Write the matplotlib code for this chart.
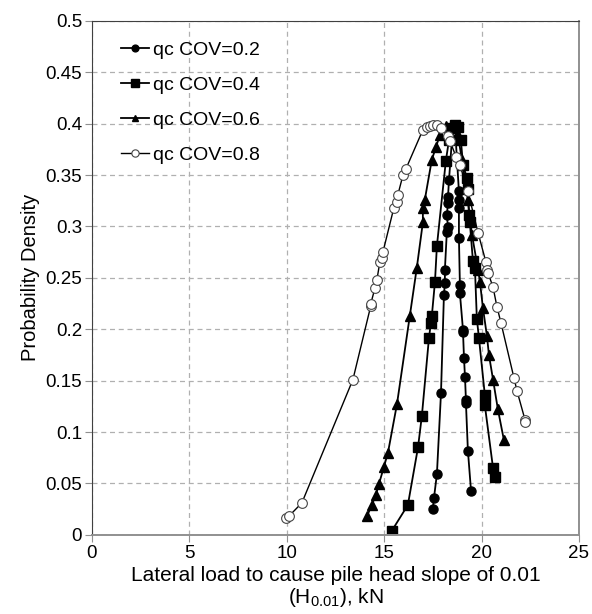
import numpy as np
import matplotlib.pyplot as plt

plt.rcParams['font.family'] = ['Liberation Sans', 'DejaVu Sans']
plt.rcParams['mathtext.default'] = 'regular'

# qc COV = 0.2
x02 = [17.50, 17.56, 17.71, 17.92, 18.07, 18.12, 18.12, 18.22, 18.28, 18.22, 18.28, 18.28, 18.33,
       18.48, 18.63, 18.84, 18.84, 18.84, 18.84, 18.89, 18.89, 19.05, 19.05, 19.10, 19.15, 19.20,
       19.20, 19.30, 19.46]
y02 = [0.025, 0.036, 0.059, 0.138, 0.233, 0.245, 0.258, 0.295, 0.299, 0.311, 0.323, 0.329, 0.345,
       0.384, 0.399, 0.334, 0.326, 0.318, 0.289, 0.243, 0.235, 0.199, 0.197, 0.172, 0.154, 0.131,
       0.128, 0.082, 0.043]

# qc COV = 0.4
x04 = [15.40, 16.22, 16.74, 16.94, 17.30, 17.40, 17.45, 17.61, 17.71, 18.17, 18.33, 18.48, 18.63,
       18.79, 18.94, 19.05, 19.25, 19.30, 19.35, 19.40, 19.56, 19.66, 19.76, 19.87, 20.17, 20.17,
       20.59, 20.69]
y04 = [0.004, 0.029, 0.085, 0.116, 0.191, 0.206, 0.213, 0.246, 0.281, 0.364, 0.384, 0.396, 0.399,
       0.397, 0.384, 0.360, 0.347, 0.336, 0.311, 0.304, 0.266, 0.260, 0.210, 0.191, 0.136, 0.126,
       0.065, 0.056]

# qc COV = 0.6
x06 = [14.12, 14.37, 14.58, 14.73, 14.99, 15.20, 15.66, 16.32, 16.68, 16.99, 16.99, 17.09, 17.45,
       17.66, 17.86, 18.17, 18.48, 18.79, 18.99, 19.30, 19.51, 19.82, 19.92, 20.07, 20.28, 20.38,
       20.59, 20.84, 21.15]
y06 = [0.018, 0.029, 0.039, 0.049, 0.066, 0.080, 0.127, 0.213, 0.260, 0.304, 0.318, 0.326, 0.365,
       0.377, 0.389, 0.398, 0.398, 0.389, 0.365, 0.326, 0.292, 0.258, 0.246, 0.221, 0.193, 0.175,
       0.151, 0.122, 0.092]

# qc COV = 0.8
x08 = [9.96, 10.11, 10.78, 13.40, 14.32, 14.32, 14.53, 14.63, 14.78, 14.89, 14.94, 15.50, 15.66,
       15.71, 15.97, 16.12, 16.99, 17.20, 17.35, 17.50, 17.71, 17.92, 18.28, 18.38, 18.69, 18.89,
       19.30, 19.82, 20.23, 20.28, 20.33, 20.59, 20.79, 21.00, 21.66, 21.82, 22.23, 22.23]
y08 = [0.016, 0.018, 0.031, 0.151, 0.223, 0.225, 0.240, 0.248, 0.265, 0.269, 0.275, 0.318, 0.324,
       0.331, 0.350, 0.356, 0.394, 0.397, 0.398, 0.399, 0.399, 0.396, 0.388, 0.383, 0.368, 0.360,
       0.334, 0.294, 0.265, 0.258, 0.255, 0.241, 0.222, 0.206, 0.153, 0.140, 0.112, 0.110]

fig = plt.figure(figsize=(5.92, 6.14), dpi=100)
ax = fig.add_axes([0.155, 0.129, 0.823, 0.837])

ax.plot(x02, y02, '-o', color='black', lw=1.3, ms=6.5, label='qc COV=0.2')
ax.plot(x04, y04, '-s', color='black', lw=1.3, ms=7, label='qc COV=0.4')
ax.plot(x06, y06, '-^', color='black', lw=1.3, ms=6.5, label='qc COV=0.6')
ax.plot(x08, y08, '-o', color='black', lw=1.0, ms=7, mfc='white', mec='#444444', mew=0.8,
        label='qc COV=0.8')

ax.set_xlim(0, 25)
ax.set_ylim(0, 0.5)
ax.set_xticks(np.arange(0, 26, 5))
ax.set_yticks(np.arange(0, 0.51, 0.05))
ax.set_yticklabels(['0', '0.05', '0.1', '0.15', '0.2', '0.25', '0.3', '0.35', '0.4', '0.45', '0.5'])
ax.grid(True, ls=(0, (4, 3)), color='#b0b0b0', lw=0.9)
ax.set_axisbelow(True)
ax.tick_params(labelsize=13.5, colors='#909090', labelcolor='black', length=5, pad=2)

for s in ['top', 'left']:
    ax.spines[s].set_color('#404040')
for s in ['right', 'bottom']:
    ax.spines[s].set_color('#909090')
    ax.spines[s].set_linewidth(1.4)

ax.set_xlabel('Lateral load to cause pile head slope of 0.01\n(H$_{0.01}$), kN', fontsize=15,
              labelpad=3, linespacing=1.1)
ax.set_ylabel('Probability Density', fontsize=14.5, labelpad=4)

ax.legend(loc='upper left', bbox_to_anchor=(0.025, 0.995), frameon=False, fontsize=14,
          handlelength=1.4, handletextpad=0.2, labelspacing=0.9, markerscale=0.75)

fig.savefig('out.png', dpi=100)
